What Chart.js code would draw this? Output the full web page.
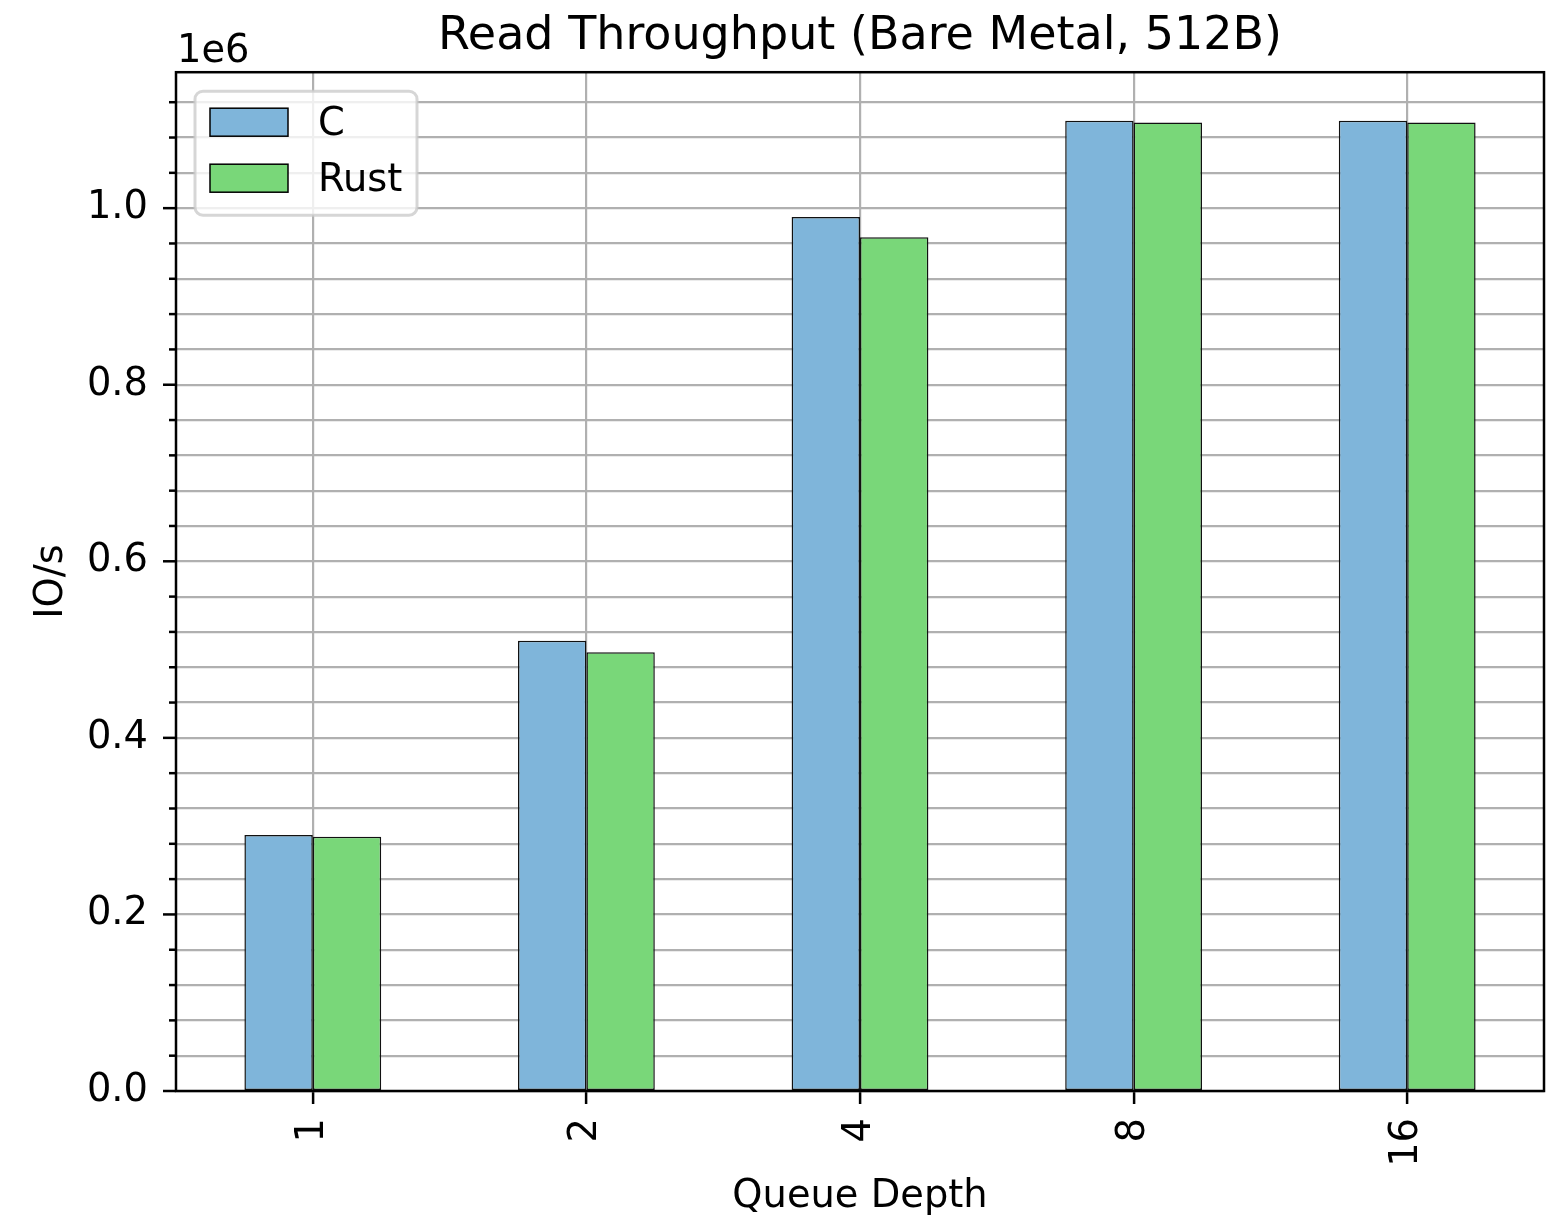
<!DOCTYPE html>
<html>
<head>
<meta charset="utf-8">
<script src="https://cdn.jsdelivr.net/npm/chart.js@4.4.0/dist/chart.umd.min.js"></script>
<style>
    body { margin: 0; background: #fff; }
    #wrap { width: 1559px; height: 1223px; position: relative; }
</style>
</head>
<body>
<div id="wrap"><canvas id="chart_canvas"></canvas></div>
<script>
// values (IO/s)
const queueDepths = ['1', '2', '4', '8', '16'];
const cValues = [290000, 510000, 990000, 1099000, 1099000];
const rustValues = [288000, 497000, 967000, 1097000, 1097000];
const yMax = 1154000;
const minorStep = 40000;
const majorStep = 200000;

const FONT = 'DejaVu Sans';
const TICK_SIZE = 38.4;

function isMultiple(v, step) {
    const q = v / step;
    return Math.abs(q - Math.round(q)) < 1e-6;
}

// matplotlib-like frame, tick marks, offset text and legend
const extras = {
    id: 'extras',
    afterDatasetsDraw(chart) {
        const ctx = chart.ctx;
        const area = chart.chartArea;
        const y = chart.scales.y;

        ctx.save();
        // y tick marks (major / minor)
        ctx.strokeStyle = '#000';
        ctx.lineWidth = 2.5;
        y.ticks.forEach(t => {
            const py = y.getPixelForValue(t.value);
            const len = isMultiple(t.value, majorStep) ? 13 : 7;
            ctx.beginPath();
            ctx.moveTo(area.left - len, py);
            ctx.lineTo(area.left, py);
            ctx.stroke();
        });

        // frame
        ctx.lineWidth = 2.5;
        ctx.strokeRect(area.left, area.top, area.right - area.left, area.bottom - area.top);

        // offset text
        ctx.fillStyle = '#000';
        ctx.font = `${TICK_SIZE}px "${FONT}"`;
        ctx.textAlign = 'left';
        ctx.textBaseline = 'alphabetic';
        ctx.fillText('1e6', area.left + 1, 62);

        // legend
        const bx = area.left + 19, by = area.top + 19, bw = 222, bh = 124, r = 8;
        ctx.beginPath();
        ctx.roundRect(bx, by, bw, bh, r);
        ctx.fillStyle = 'rgba(255,255,255,0.8)';
        ctx.fill();
        ctx.strokeStyle = 'rgba(204,204,204,0.8)';
        ctx.lineWidth = 3;
        ctx.stroke();

        chart.data.datasets.forEach((ds, i) => {
            const py = by + 17 + i * 56;
            ctx.fillStyle = ds.backgroundColor;
            ctx.fillRect(bx + 15, py, 78, 28);
            ctx.strokeStyle = '#000';
            ctx.lineWidth = 1.5;
            ctx.strokeRect(bx + 15, py, 78, 28);
            ctx.fillStyle = '#000';
            ctx.textBaseline = 'middle';
            ctx.fillText(ds.label, bx + 123, py + 17);
        });
        ctx.restore();
    }
};

const ctx = document.getElementById('chart_canvas').getContext('2d');
const chart = new Chart(ctx, {
    type: 'bar',
    data: {
        labels: queueDepths,
        datasets: [{
            label: 'C',
            data: cValues,
            backgroundColor: '#7fb5da',
            borderColor: '#111',
            borderWidth: 1.5,
            borderSkipped: false,
            categoryPercentage: 0.5,
            barPercentage: 1.0
        }, {
            label: 'Rust',
            data: rustValues,
            backgroundColor: '#79d779',
            borderColor: '#111',
            borderWidth: 1.5,
            borderSkipped: false,
            categoryPercentage: 0.5,
            barPercentage: 1.0
        }]
    },
    options: {
        responsive: true,
        maintainAspectRatio: false,
        animation: false,
        layout: { padding: { left: 0, right: 15, top: 0, bottom: 0 } },
        plugins: {
            legend: { display: false },
            tooltip: { enabled: false },
            title: {
                display: true,
                fullSize: false,
                text: 'Read Throughput (Bare Metal, 512B)',
                color: '#000',
                font: { family: FONT, size: 46, weight: 'normal' },
                padding: { top: 9, bottom: 8 }
            }
        },
        scales: {
            x: {
                offset: true,
                grid: {
                    offset: false,
                    color: '#b0b0b0',
                    lineWidth: 2.2,
                    tickColor: '#000',
                    tickWidth: 2.5,
                    tickLength: 13
                },
                border: { display: false },
                ticks: {
                    color: '#000',
                    font: { family: FONT, size: TICK_SIZE },
                    minRotation: 90,
                    maxRotation: 90,
                    padding: 14
                },
                title: {
                    display: true,
                    text: 'Queue Depth',
                    color: '#000',
                    font: { family: FONT, size: TICK_SIZE },
                    padding: { top: 0, bottom: 3 }
                },
                afterFit(scale) { scale.height = 132; }
            },
            y: {
                min: 0,
                max: yMax,
                grid: {
                    color: '#b0b0b0',
                    lineWidth: 2.2,
                    drawTicks: false
                },
                border: { display: false },
                afterBuildTicks(scale) {
                    const ticks = [];
                    for (let v = 0; v <= yMax; v += minorStep) {
                        ticks.push({ value: v });
                    }
                    scale.ticks = ticks;
                },
                ticks: {
                    autoSkip: false,
                    color: '#000',
                    font: { family: FONT, size: TICK_SIZE },
                    padding: 28,
                    callback: function (value) {
                        return isMultiple(value, majorStep) ? (value / 1e6).toFixed(1) : '';
                    }
                },
                title: {
                    display: true,
                    text: 'IO/s',
                    color: '#000',
                    font: { family: FONT, size: TICK_SIZE },
                    padding: { top: 29, bottom: 0 }
                },
                afterFit(scale) { scale.width = 176; }
            }
        }
    },
    plugins: [extras]
});
</script>
</body>
</html>
